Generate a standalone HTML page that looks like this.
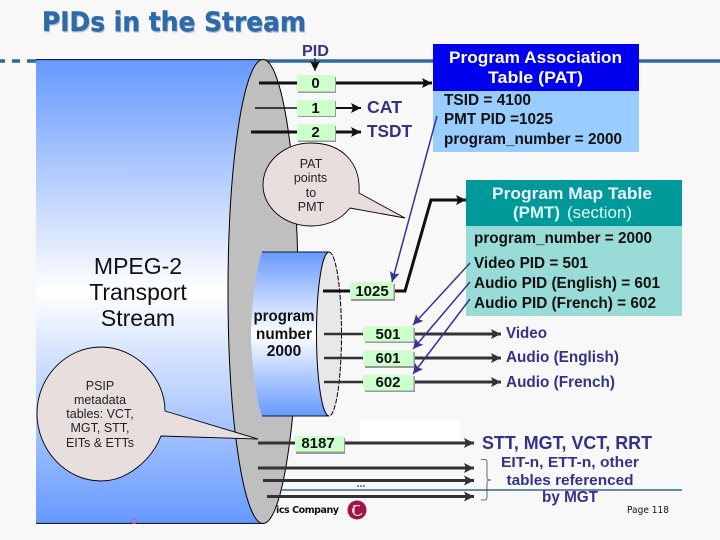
<!DOCTYPE html>
<html><head><meta charset="utf-8"><style>
html,body{margin:0;padding:0;background:#f8f8f8;width:720px;height:540px;overflow:hidden}
svg{display:block}
text{font-family:"Liberation Sans",sans-serif}
.b{font-weight:bold}
.n{font-weight:bold;font-size:15px;text-anchor:middle;fill:#111}
.p{font-weight:bold;fill:#333388}
.k{font-weight:bold;font-size:15.5px;fill:#111}
.c{font-size:12.5px;text-anchor:middle;fill:#222}
</style></head><body>
<svg width="720" height="540" viewBox="0 0 720 540" xmlns="http://www.w3.org/2000/svg">
<defs>
<linearGradient id="g" x1="0" y1="0" x2="0" y2="1"><stop offset="0" stop-color="#6699ff"/><stop offset=".5" stop-color="#ffffff"/><stop offset="1" stop-color="#6699ff"/></linearGradient>
<marker id="ak" markerUnits="userSpaceOnUse" markerWidth="11" markerHeight="11" refX="10" refY="5.500" orient="auto"><path d="M0 .5L10 5.500L0 10.500L2 5.500z" fill="#111"/></marker>
<marker id="ad" markerUnits="userSpaceOnUse" markerWidth="11" markerHeight="11" refX="10" refY="5.500" orient="auto"><path d="M0 .5L10 5.500L0 10.500L2 5.500z" fill="#333"/></marker>
<marker id="ap" markerUnits="userSpaceOnUse" markerWidth="11" markerHeight="11" refX="10" refY="5.500" orient="auto"><path d="M0 .5L10 5.500L0 10.500L2 5.500z" fill="#333399"/></marker>
</defs>

<!-- title -->
<text x="43" y="32.500" font-size="27" class="b" style="font-family:'DejaVu Sans',sans-serif" fill="#b8c4d4" textLength="264" lengthAdjust="spacingAndGlyphs">PIDs in the Stream</text>
<text x="42" y="31" font-size="27" class="b" style="font-family:'DejaVu Sans',sans-serif" fill="#2f6aa8" stroke="#2f6aa8" stroke-width=".4" textLength="264" lengthAdjust="spacingAndGlyphs">PIDs in the Stream</text>

<!-- header rule -->
<path d="M0 61H5M12 61H20M27 61H36" stroke="#336699" stroke-width="3.4" fill="none"/>
<path d="M263 61H720" stroke="#336699" stroke-width="3.4"/>

<!-- big stream -->
<rect x="36" y="60" width="227" height="463" fill="url(#g)"/>
<path d="M36 59.600H263M36 523.400H263" stroke="#000" stroke-width="1"/>
<ellipse cx="263" cy="291.500" rx="35" ry="232" fill="#bfbfbf" stroke="#000" stroke-width="1"/>

<!-- white patch -->
<rect x="360" y="419" width="100" height="22" fill="#fff"/>

<!-- footer bits -->
<circle cx="134" cy="521" r="2.500" fill="none" stroke="#c060a0"/>
<path d="M280 490H682" stroke="#336699" stroke-width="1.600"/>
<text x="276" y="513" font-size="9.500" class="b" style="font-family:'DejaVu Sans',sans-serif" fill="#111" textLength="63" lengthAdjust="spacing">ics Company</text>
<circle cx="357" cy="510" r="9.500" fill="#a5114f"/>
<path d="M354 505v8M360 506a5 5 0 1 0 2 7" stroke="#eec" stroke-width="1.200" fill="none"/>
<text x="627" y="513" font-size="10" style="font-family:'DejaVu Sans',sans-serif" fill="#111" textLength="42" lengthAdjust="spacingAndGlyphs">Page 118</text>

<!-- small cylinder -->
<path d="M262 252H329V416H262C254 392 251 350 251 334C251 318 254 276 262 252Z" fill="url(#g)" stroke="none"/>
<path d="M262 252H329M262 416H329" stroke="#113" stroke-width="1"/>
<ellipse cx="329" cy="334" rx="12.500" ry="82" fill="#e8e8e8"/>
<path d="M329 252A12.500 82 0 0 0 329 416" fill="none" stroke="#000" stroke-width="1"/>
<path d="M329 252A12.500 82 0 0 1 329 416" fill="none" stroke="#000" stroke-width="1" stroke-dasharray="5 1.500"/>
<text class="k" text-anchor="middle" x="284" y="321" textLength="61" lengthAdjust="spacingAndGlyphs">program</text>
<text class="k" text-anchor="middle" x="284" y="339" textLength="56" lengthAdjust="spacingAndGlyphs">number</text>
<text class="k" text-anchor="middle" x="284" y="356">2000</text>

<!-- PID -->
<text x="302" y="56" font-size="15.500" class="p" textLength="27" lengthAdjust="spacingAndGlyphs">PID</text>
<path d="M315 58V71" stroke="#111" stroke-width="1.200" marker-end="url(#ak)"/>

<!-- black lines top -->
<path d="M259 83H297" stroke="#111" stroke-width="3"/>
<path d="M255 108H297" stroke="#111" stroke-width="1.500"/>
<path d="M251 132H297" stroke="#111" stroke-width="3"/>
<path d="M336 83H432" stroke="#111" stroke-width="3" marker-end="url(#ak)"/>
<path d="M336 108H361" stroke="#111" stroke-width="2" marker-end="url(#ak)"/>
<path d="M336 132H361" stroke="#111" stroke-width="3" marker-end="url(#ak)"/>

<!-- PID boxes top -->
<rect x="298" y="77" width="38" height="16" fill="#999"/><rect x="297" y="75" width="38" height="16.500" fill="#ccffcc"/>
<rect x="298" y="101" width="38" height="16" fill="#999"/><rect x="297" y="100" width="38" height="16" fill="#ccffcc"/>
<rect x="298" y="126" width="38" height="16" fill="#999"/><rect x="297" y="124" width="38" height="16.500" fill="#ccffcc"/>
<text class="n" x="315.500" y="88">0</text><text class="n" x="315.500" y="113">1</text><text class="n" x="315.500" y="137">2</text>

<text x="367" y="113" font-size="17.500" class="p" textLength="35" lengthAdjust="spacingAndGlyphs">CAT</text>
<text x="367" y="137" font-size="17.500" class="p" textLength="45" lengthAdjust="spacingAndGlyphs">TSDT</text>

<!-- PAT callout -->
<path d="M359 193L405 218L350 208C340 221 325 226 311 226C285 226 263 208 263 185C263 161 285 143 311 143C342 143 361 163 359 193Z" fill="#e8dede" stroke="#000" stroke-width=".9"/>
<text class="c" x="311" y="168">PAT</text><text class="c" x="310.500" y="182">points</text><text class="c" x="311" y="197">to</text><text class="c" x="311" y="211">PMT</text>

<!-- PAT table -->
<rect x="433" y="44" width="206" height="47" fill="#0000ee"/>
<rect x="433" y="91" width="206" height="61" fill="#99ccff"/>
<text class="b" x="535.500" y="63" font-size="17" fill="#fff" text-anchor="middle" textLength="173" lengthAdjust="spacingAndGlyphs">Program Association</text>
<text class="b" x="535.500" y="83" font-size="17" fill="#fff" text-anchor="middle" textLength="95" lengthAdjust="spacingAndGlyphs">Table (PAT)</text>
<text class="k" x="444" y="105" textLength="87" lengthAdjust="spacingAndGlyphs">TSID = 4100</text>
<text class="k" x="444" y="124" textLength="109" lengthAdjust="spacingAndGlyphs">PMT PID =1025</text>
<text class="k" x="444" y="144" textLength="178" lengthAdjust="spacingAndGlyphs">program_number = 2000</text>

<!-- PMT table -->
<rect x="466" y="180" width="216" height="46" fill="#009999"/>
<rect x="466" y="226" width="216" height="90" fill="#99dbd6"/>
<text class="b" x="572" y="199" font-size="17" fill="#eef" text-anchor="middle" textLength="160" lengthAdjust="spacingAndGlyphs">Program Map Table</text>
<text x="513" y="218" font-size="17" fill="#dff" class="b" textLength="47" lengthAdjust="spacingAndGlyphs">(PMT)</text>
<text x="567" y="218" font-size="17" fill="#dff" textLength="65" lengthAdjust="spacingAndGlyphs">(section)</text>
<text class="k" x="474" y="243" textLength="178" lengthAdjust="spacingAndGlyphs">program_number = 2000</text>
<text class="k" x="474" y="268" textLength="114" lengthAdjust="spacingAndGlyphs">Video PID = 501</text>
<text class="k" x="474" y="288" textLength="186" lengthAdjust="spacingAndGlyphs">Audio PID (English) = 601</text>
<text class="k" x="474" y="308" textLength="182" lengthAdjust="spacingAndGlyphs">Audio PID (French) = 602</text>

<!-- mid lines -->
<path d="M323 291H350" stroke="#111" stroke-width="3"/>
<path d="M394 291H405L431 200H466" fill="none" stroke="#111" stroke-width="3" marker-end="url(#ak)"/>
<path d="M324 334H364M324 358H364M324 382H364" stroke="#333" stroke-width="2.500"/>
<path d="M414 334H501" stroke="#333" stroke-width="3" marker-end="url(#ad)"/>
<path d="M414 358H501" stroke="#333" stroke-width="3" marker-end="url(#ad)"/>
<path d="M414 382H501" stroke="#333" stroke-width="3" marker-end="url(#ad)"/>

<rect x="351" y="284" width="44" height="17" fill="#999"/><rect x="350" y="282" width="43.500" height="17" fill="#ccffcc"/>
<rect x="365" y="328" width="50" height="15" fill="#999"/><rect x="363" y="326.500" width="50.500" height="15" fill="#ccffcc"/>
<rect x="365" y="352" width="50" height="16" fill="#999"/><rect x="363" y="350.500" width="50.500" height="15.500" fill="#ccffcc"/>
<rect x="365" y="376" width="50" height="16" fill="#999"/><rect x="363" y="375" width="50.500" height="15.500" fill="#ccffcc"/>
<text class="n" x="372" y="296">1025</text>
<text class="n" x="388" y="339">501</text><text class="n" x="388" y="363">601</text><text class="n" x="388" y="387">602</text>

<text x="506" y="338" font-size="15.500" class="p" textLength="41" lengthAdjust="spacingAndGlyphs">Video</text>
<text x="506" y="362" font-size="15.500" class="p" textLength="113" lengthAdjust="spacingAndGlyphs">Audio (English)</text>
<text x="506" y="387" font-size="15.500" class="p" textLength="109" lengthAdjust="spacingAndGlyphs">Audio (French)</text>

<!-- purple pointers -->
<path d="M437 116L392 282" stroke="#333399" stroke-width="1.500" marker-end="url(#ap)" fill="none"/>
<path d="M470 263L413 325" stroke="#333399" stroke-width="1.500" marker-end="url(#ap)" fill="none"/>
<path d="M470 282L413 349" stroke="#333399" stroke-width="1.500" marker-end="url(#ap)" fill="none"/>
<path d="M470 299L413 374" stroke="#333399" stroke-width="1.500" marker-end="url(#ap)" fill="none"/>

<!-- bottom lines -->
<path d="M345 443H474" stroke="#333" stroke-width="3" marker-end="url(#ad)"/>
<path d="M258 468H474" stroke="#333" stroke-width="3" marker-end="url(#ad)"/>
<path d="M263 480.500H474" stroke="#333" stroke-width="3" marker-end="url(#ad)"/>
<path d="M267 496.500H474" stroke="#333" stroke-width="3" marker-end="url(#ad)"/>
<path d="M357 486H365" stroke="#222" stroke-width="1" stroke-dasharray="2 1"/>
<rect x="296" y="438" width="49" height="16" fill="#999"/><rect x="295" y="436" width="49" height="15.500" fill="#ccffcc"/>
<text class="n" x="318" y="448">8187</text>

<path d="M481 459.500H485Q487 459.500 487 462V478Q487 480 491 480Q487 480 487 482V497Q487 500 485 500H481" fill="none" stroke="#444" stroke-width=".8"/>

<text x="482" y="449" font-size="18" class="p" textLength="170" lengthAdjust="spacingAndGlyphs">STT, MGT, VCT, RRT</text>
<text x="570" y="467" font-size="15" class="p" text-anchor="middle" textLength="138" lengthAdjust="spacingAndGlyphs">EIT-n, ETT-n, other</text>
<text x="570" y="485" font-size="15" class="p" text-anchor="middle" textLength="127" lengthAdjust="spacingAndGlyphs">tables referenced</text>
<text x="570" y="502" font-size="16" class="p" text-anchor="middle" textLength="56" lengthAdjust="spacingAndGlyphs">by MGT</text>

<!-- PSIP callout -->
<path d="M165 411L258 439L161 436C152 459 128 481 101 481C66 481 37 450 37 413.500C37 377 66 347 101 347C134 347 165 376 165 411Z" fill="#e8dede" stroke="#000" stroke-width=".9"/>
<text class="c" x="100" y="390">PSIP</text><text class="c" x="100" y="404">metadata</text><text class="c" x="100" y="418">tables: VCT,</text><text class="c" x="100" y="432">MGT, STT,</text><text class="c" x="100" y="447">EITs &amp; ETTs</text>

<!-- line over callout -->
<path d="M258 443H295" stroke="#333" stroke-width="3"/>

<!-- MPEG label -->
<text x="138" y="274" font-size="23" text-anchor="middle" fill="#111">MPEG-2</text>
<text x="138" y="300" font-size="23" text-anchor="middle" fill="#111">Transport</text>
<text x="138" y="326" font-size="23" text-anchor="middle" fill="#111">Stream</text>
</svg>
</body></html>
